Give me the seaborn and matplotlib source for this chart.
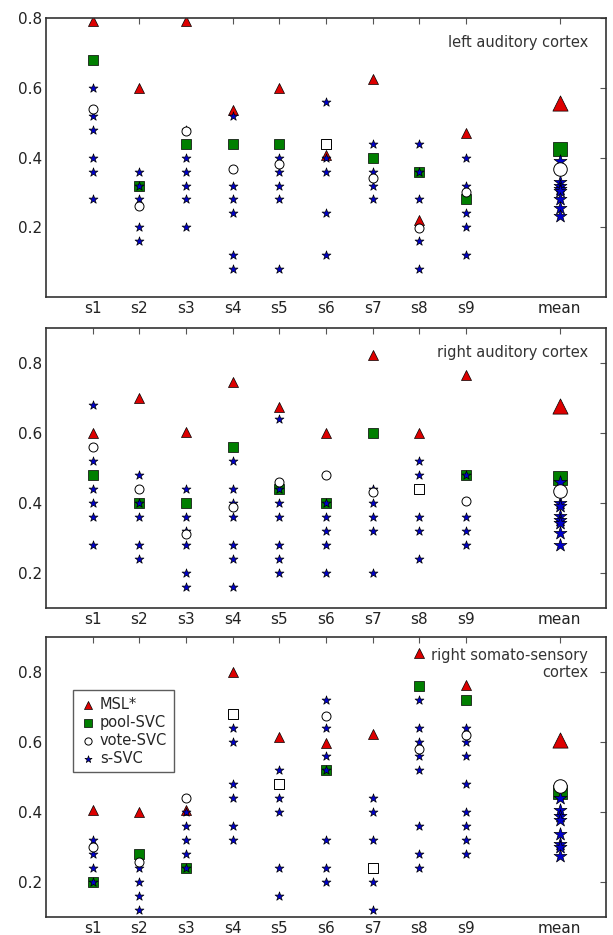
import numpy as np
import pandas as pd
import matplotlib
matplotlib.use("Agg")
import matplotlib.pyplot as plt
import seaborn as sns

subjects = ["s1", "s2", "s3", "s4", "s5", "s6", "s7", "s8", "s9", "mean"]
regions = ["left auditory cortex", "right auditory cortex", "right somato-sensory\ncortex"]

# MSL* per subject (last entry = mean)
msl = [
    [0.79, 0.60, 0.79, 0.535, 0.60, 0.408, 0.624, 0.222, 0.47, 0.557],
    [0.60, 0.70, 0.604, 0.745, 0.674, 0.60, 0.823, 0.60, 0.767, 0.678],
    [0.405, 0.40, 0.405, 0.80, 0.615, 0.598, 0.622, 0.853, 0.762, 0.606],
]
pool_svc = [
    [0.68, 0.32, 0.44, 0.44, 0.44, 0.44, 0.40, 0.36, 0.28, 0.424],
    [0.48, 0.40, 0.40, 0.56, 0.44, 0.40, 0.60, 0.44, 0.48, 0.47],
    [0.20, 0.28, 0.24, 0.68, 0.48, 0.52, 0.24, 0.76, 0.72, 0.458],
]
vote_svc = [
    [0.54, 0.262, 0.476, 0.366, 0.382, 0.44, 0.342, 0.197, 0.302, 0.368],
    [0.56, 0.44, 0.312, 0.388, 0.459, 0.48, 0.431, 0.44, 0.405, 0.433],
    [0.299, 0.257, 0.44, 0.68, 0.48, 0.675, 0.24, 0.579, 0.62, 0.475],
]
# s-SVC values per subject (visible stars)
s_svc = [
    [
        [0.60, 0.52, 0.48, 0.40, 0.36, 0.28],
        [0.36, 0.32, 0.28, 0.20, 0.16],
        [0.48, 0.40, 0.36, 0.32, 0.28, 0.20],
        [0.52, 0.32, 0.28, 0.24, 0.12, 0.08],
        [0.40, 0.36, 0.32, 0.28, 0.08],
        [0.56, 0.40, 0.36, 0.24, 0.12],
        [0.44, 0.36, 0.32, 0.28],
        [0.44, 0.36, 0.28, 0.16, 0.08],
        [0.40, 0.32, 0.24, 0.20, 0.12],
        [0.39, 0.33, 0.32, 0.31, 0.305, 0.28, 0.255, 0.232],
    ],
    [
        [0.68, 0.52, 0.44, 0.40, 0.36, 0.28],
        [0.48, 0.40, 0.36, 0.28, 0.24],
        [0.44, 0.36, 0.32, 0.28, 0.20, 0.16],
        [0.52, 0.44, 0.40, 0.36, 0.28, 0.24, 0.16],
        [0.64, 0.44, 0.40, 0.36, 0.28, 0.24, 0.20],
        [0.40, 0.36, 0.32, 0.28, 0.20],
        [0.44, 0.40, 0.36, 0.32, 0.20],
        [0.52, 0.48, 0.36, 0.32, 0.24],
        [0.48, 0.36, 0.32, 0.28],
        [0.46, 0.40, 0.39, 0.363, 0.35, 0.343, 0.314, 0.28],
    ],
    [
        [0.32, 0.28, 0.24, 0.20],
        [0.24, 0.20, 0.16, 0.12],
        [0.40, 0.36, 0.32, 0.28, 0.24],
        [0.64, 0.60, 0.48, 0.44, 0.36, 0.32],
        [0.52, 0.44, 0.40, 0.24, 0.16],
        [0.72, 0.64, 0.56, 0.52, 0.32, 0.24, 0.20],
        [0.44, 0.40, 0.32, 0.20, 0.12],
        [0.72, 0.64, 0.60, 0.56, 0.52, 0.36, 0.28, 0.24],
        [0.64, 0.60, 0.56, 0.48, 0.40, 0.36, 0.32, 0.28],
        [0.44, 0.405, 0.39, 0.377, 0.336, 0.308, 0.30, 0.274],
    ],
]
ylims = [(0.0, 0.8), (0.1, 0.9), (0.1, 0.9)]

xpos = {s: i + 1 for i, s in enumerate(subjects[:-1])}
xpos["mean"] = 11

sns.set_style("white")
plt.rcParams["font.family"] = ["DejaVu Sans"]

fig = plt.figure(figsize=(6.13, 9.35), dpi=100)
boxes = [(0.075, 0.682, 0.914, 0.299), (0.075, 0.350, 0.914, 0.299), (0.075, 0.019, 0.914, 0.300)]

for k in range(3):
    ax = fig.add_axes(boxes[k])
    rows = []
    for j, s in enumerate(subjects):
        rows.append((s, "MSL*", msl[k][j]))
        rows.append((s, "pool-SVC", pool_svc[k][j]))
        rows.append((s, "vote-SVC", vote_svc[k][j]))
        for v in s_svc[k][j]:
            rows.append((s, "s-SVC", v))
    df = pd.DataFrame(rows, columns=["subject", "method", "value"])
    df["x"] = df["subject"].map(xpos)
    df["is_mean"] = df["subject"] == "mean"

    # where pool and vote coincide the square is drawn white
    pv = df[df.method == "pool-SVC"].set_index("subject")["value"]
    vv = df[df.method == "vote-SVC"].set_index("subject")["value"]
    tie = (pv - vv).abs() < 1e-9

    styles = [
        ("MSL*", "^", "#dd0000", 52, 120, 1),
        ("pool-SVC", "s", "#007f00", 42, 90, 2),
        ("s-SVC", "*", "#0000cc", 45, 95, 3),
        ("vote-SVC", "o", "white", 42, 95, 4),
    ]
    for name, mk, col, s_small, s_big, z in styles:
        d = df[df.method == name]
        if name == "vote-SVC":
            d = d[~d.subject.map(tie).values]
        for big, sz in ((False, s_small), (True, s_big)):
            dd = d[d.is_mean == big]
            if name == "pool-SVC":
                dt = dd[dd.subject.map(tie).values]
                dd = dd[~dd.subject.map(tie).values]
                if len(dt):
                    sns.scatterplot(data=dt, x="x", y="value", marker=mk, color="white",
                                    edgecolor="black", linewidth=0.7, s=sz, ax=ax,
                                    legend=False, zorder=z)
            lab = name if (k == 2 and not big) else None
            sns.scatterplot(data=dd, x="x", y="value", marker=mk, color=col,
                            edgecolor="black", linewidth=0.5 if name != "vote-SVC" else 0.7,
                            s=sz, ax=ax, legend=False, zorder=z, label=lab)

    ax.set_xlim(0, 12)
    ax.set_ylim(*ylims[k])
    ax.set_xticks([xpos[s] for s in subjects])
    ax.set_xticklabels(subjects, fontsize=11)
    ax.set_yticks([0.2, 0.4, 0.6, 0.8])
    ax.set_yticklabels(["0.2", "0.4", "0.6", "0.8"], fontsize=11)
    ax.set_xlabel("")
    ax.set_ylabel("")
    ax.tick_params(direction="in", top=True, right=True, length=4, width=0.8,
                   color="#555555", pad=3, labelcolor="#222222")
    for sp in ax.spines.values():
        sp.set_linewidth(1.2)
        sp.set_color("#333333")
    ax.text(0.968, 0.94 if k < 2 else 0.96, regions[k], transform=ax.transAxes,
            ha="right", va="top", fontsize=10.5, color="#333333", linespacing=1.15)

    if k == 2:
        handles, labels = ax.get_legend_handles_labels()
        order = ["MSL*", "pool-SVC", "vote-SVC", "s-SVC"]
        hmap = dict(zip(labels, handles))
        leg = ax.legend([hmap[o] for o in order], order, loc="upper left",
                        bbox_to_anchor=(0.035, 0.835), fontsize=10.5, frameon=True,
                        fancybox=False, edgecolor="#333333", markerscale=0.8,
                        handletextpad=0.2, borderpad=0.45, labelspacing=0.2,
                        handlelength=1.2)
        leg.get_frame().set_linewidth(1.0)

fig.savefig("out.png", dpi=100)
